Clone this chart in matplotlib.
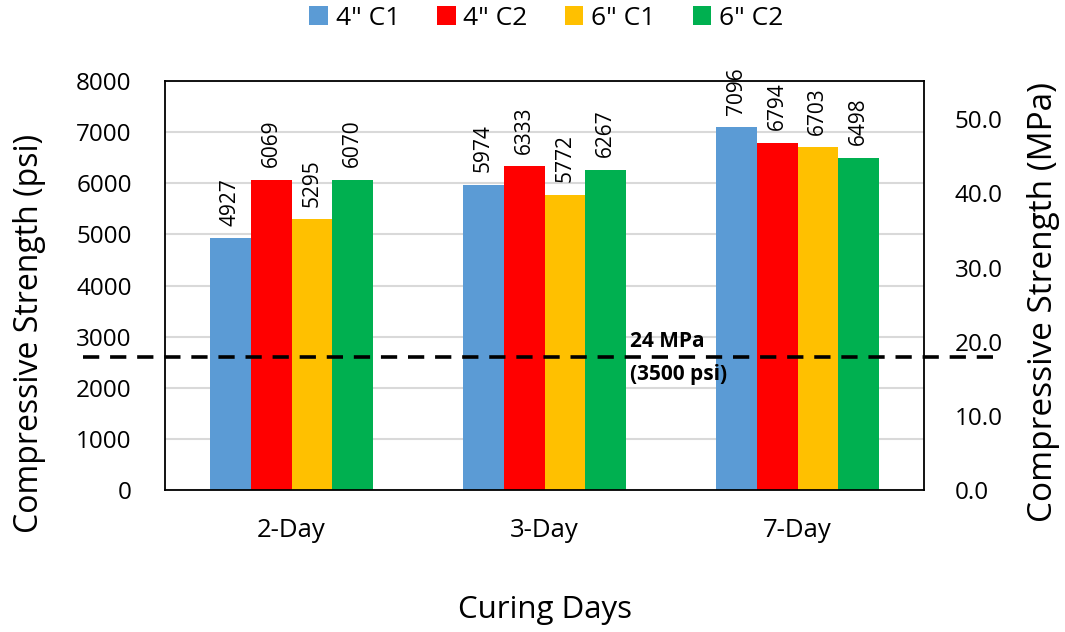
import matplotlib
matplotlib.use("Agg")
import matplotlib.pyplot as plt
import matplotlib.transforms as mtransforms
import numpy as np

categories = ["2-Day", "3-Day", "7-Day"]
series_names = ['4" C1', '4" C2', '6" C1', '6" C2']
c1_4in = [4927, 5974, 7096]
c2_4in = [6069, 6333, 6794]
c1_6in = [5295, 5772, 6703]
c2_6in = [6070, 6267, 6498]
series_values = [c1_4in, c2_4in, c1_6in, c2_6in]
colors = ["#5B9BD5", "#FF0000", "#FFC000", "#00B050"]
ref_line_psi = 2600
left_ticks = [0, 1000, 2000, 3000, 4000, 5000, 6000, 7000, 8000]
right_ticks = [0, 10, 20, 30, 40, 50]
psi_to_mpa = 0.00689476

plt.rcParams['font.family'] = ['Open Sans', 'DejaVu Sans']

fig = plt.figure(figsize=(10.65, 6.32), dpi=100)
ax = fig.add_axes([0.155, 0.2247, 0.7126, 0.6471])

x = np.arange(len(categories))
bw = 0.161
for i, (name, vals, col) in enumerate(zip(series_names, series_values, colors)):
    pos = x + (i - 1.5) * bw
    bars = ax.bar(pos, vals, width=bw, color=col, label=name, zorder=2)
    for b, v in zip(bars, vals):
        ax.annotate(f"{v}", (b.get_x() + b.get_width() / 2, v), xytext=(0, 9),
                    textcoords="offset points", rotation=90, ha="center", va="bottom",
                    fontsize=15, annotation_clip=False, zorder=4)

ax.set_xlim(-0.5, 2.5)
ax.set_ylim(0, 8000)
ax.set_yticks(left_ticks)
ax.set_yticklabels([str(t) for t in left_ticks], fontsize=17.5)
ax.set_xticks(x)
ax.set_xticklabels(categories, fontsize=18.5)
ax.tick_params(axis="y", length=0, pad=24)
ax.tick_params(axis="x", length=0, pad=20)
ax.grid(axis="y", color="#D9D9D9", linewidth=1.5, zorder=0)
ax.set_axisbelow(True)
for s in ax.spines.values():
    s.set_color("black")
    s.set_linewidth(1.3)
ax.set_ylabel("Compressive Strength (psi)", fontsize=23)
ax.yaxis.set_label_coords(-0.179, 0.384)
ax.set_xlabel("Curing Days", fontsize=22.5)
ax.xaxis.set_label_coords(0.5, -0.293)
ax.xaxis.label.set_va("center")
ax.yaxis.label.set_va("center")

ax2 = ax.twinx()
ax2.set_ylim(0, 8000 * psi_to_mpa)
ax2.set_yticks(right_ticks)
ax2.set_yticklabels([f"{t:.1f}" for t in right_ticks], fontsize=17.5)
ax2.tick_params(axis="y", length=0, pad=22)
ax2.set_ylabel("Compressive Strength (MPa)", fontsize=24)
ax2.yaxis.set_label_coords(1.157, 0.46)
ax2.yaxis.label.set_va("center")
for s in ax2.spines.values():
    s.set_visible(False)

trans = mtransforms.blended_transform_factory(ax.transAxes, ax.transData)
ax.plot([-0.108, 1.091], [ref_line_psi, ref_line_psi], transform=trans, color="black",
        linestyle=(0, (4.5, 3.0)), linewidth=2.6, clip_on=False, zorder=5)
ax.text(0.613, ref_line_psi + 310, "24 MPa", transform=trans, fontsize=15,
        fontweight="bold", ha="left", va="center", zorder=6)
ax.text(0.613, ref_line_psi - 350, "(3500 psi)", transform=trans, fontsize=15,
        fontweight="bold", ha="left", va="center", zorder=6)

handles, labels = ax.get_legend_handles_labels()
fig.legend(handles, labels, loc="center", bbox_to_anchor=(0.513, 0.971), ncol=4,
           frameon=False, fontsize=19, handlelength=0.7, handleheight=0.7,
           handletextpad=0.3, columnspacing=1.4)

fig.savefig("out.png", dpi=100)
